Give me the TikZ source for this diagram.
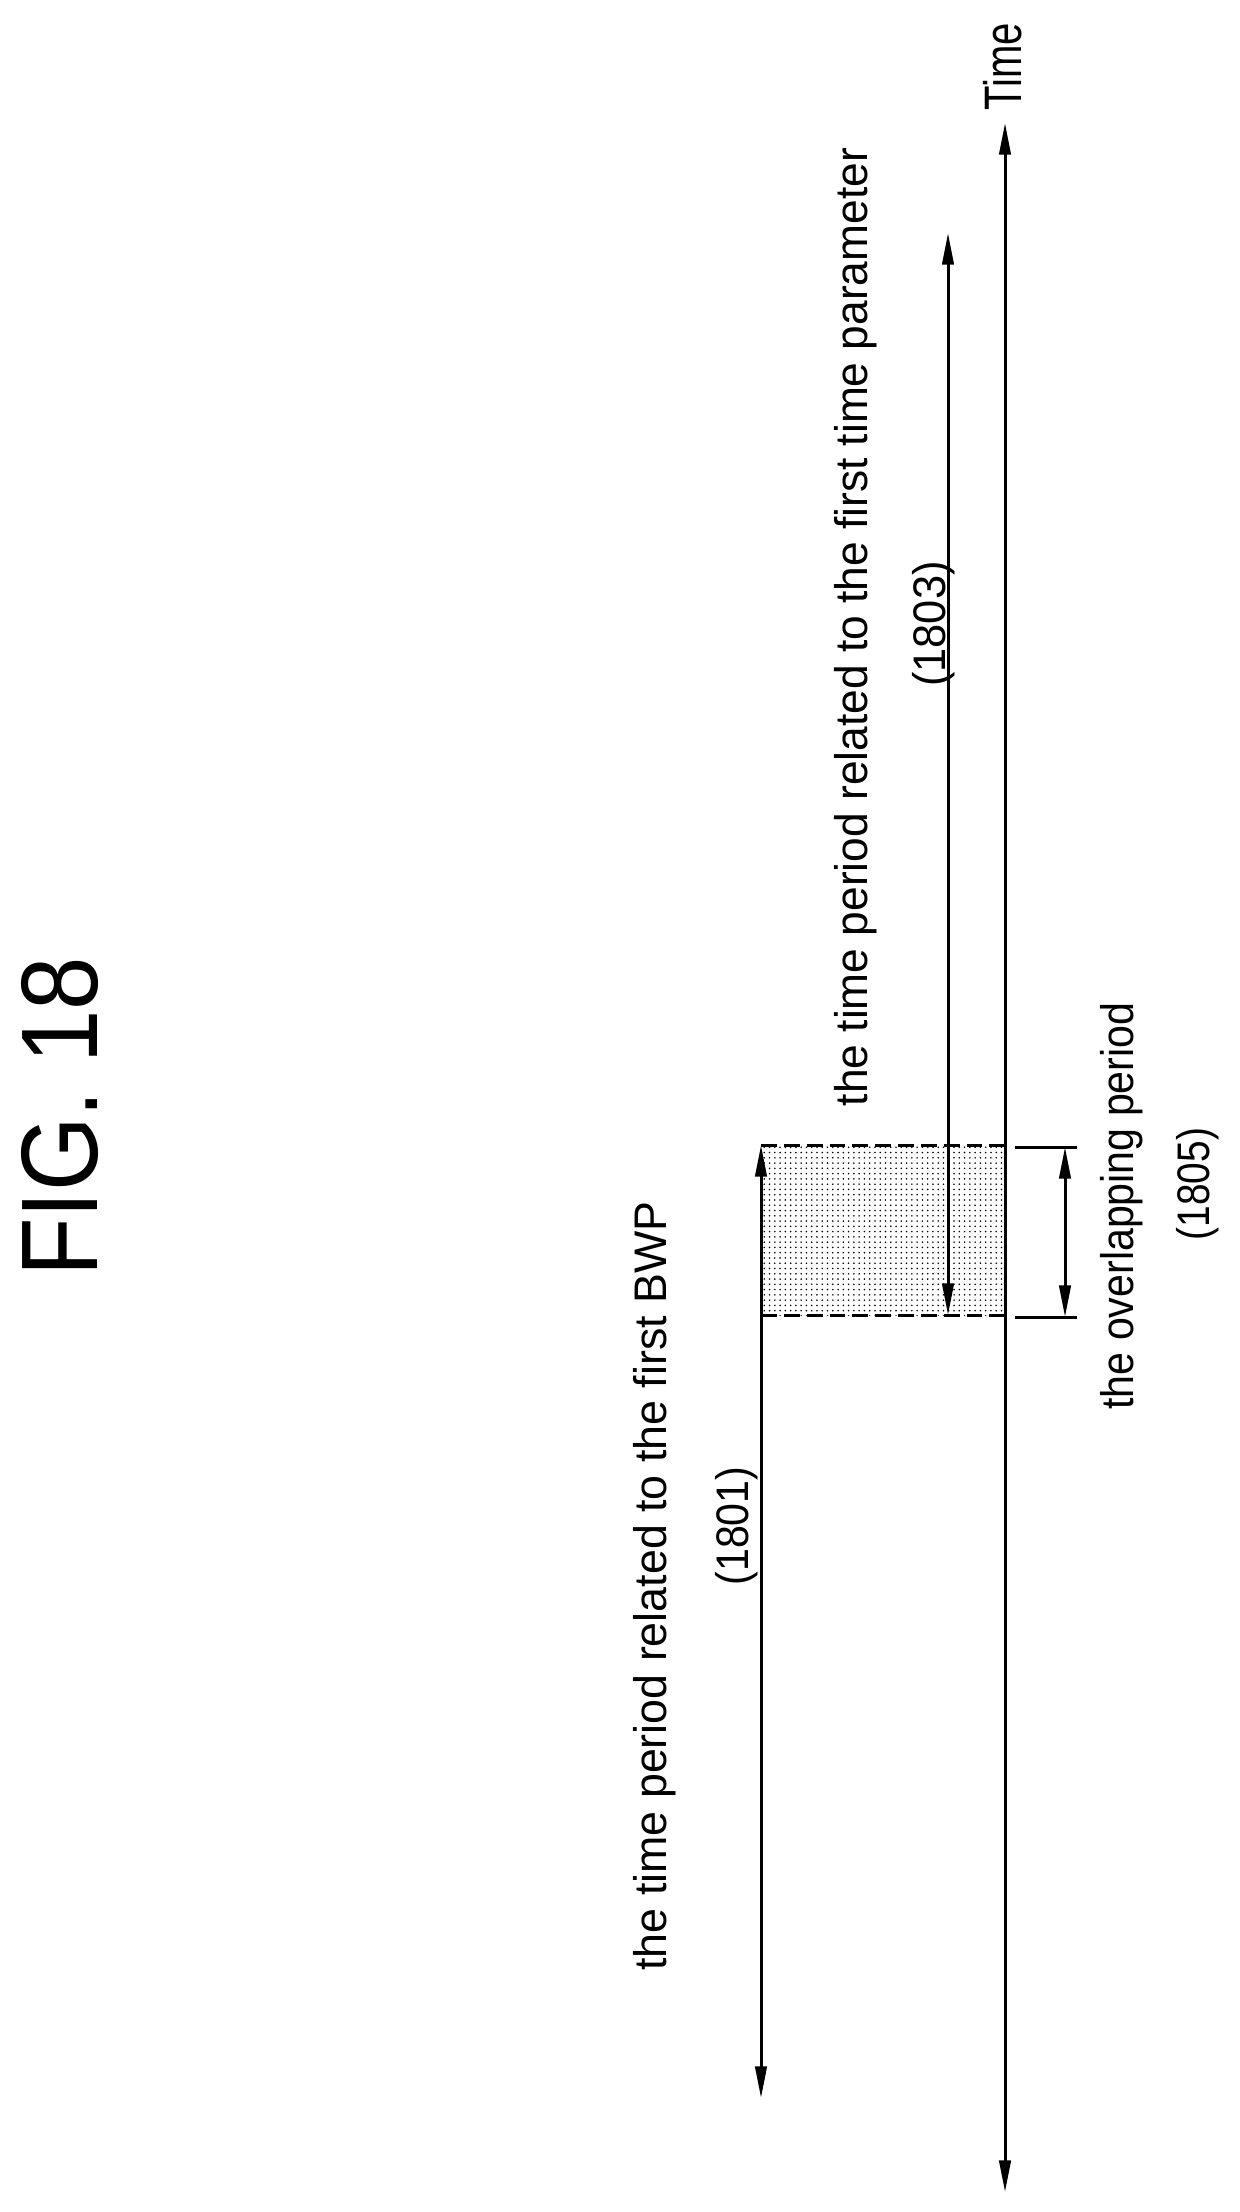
\documentclass[tikz,border=0pt]{standalone}
\usepackage{fontspec}
\setmainfont{Liberation Sans}
\usetikzlibrary{arrows.meta,patterns}
\newcommand{\cond}[2]{\scalebox{#1}[1]{#2}}
\tikzset{
  lbl/.style={rotate=90, inner sep=0pt, font=\fontsize{26}{32}\selectfont},
  span/.style={line width=1.7pt, {Triangle[length=18pt,width=6.5pt]}-{Triangle[length=18pt,width=6.5pt]}},
  edge/.style={line width=1.7pt, dashed, dash pattern=on 9pt off 4pt}
}
\begin{document}
\begin{tikzpicture}[x=0.02cm, y=-0.02cm]
  \useasboundingbox (0,0) rectangle (1240,2212);

  % coordinates
  \coordinate (tTop) at (1005,123);
  \coordinate (tBot) at (1005,2192);
  \coordinate (bwpTop) at (761,1145);
  \coordinate (bwpBot) at (761,2098);
  \coordinate (parTop) at (948,233);
  \coordinate (parBot) at (948,1315);
  \coordinate (boxR) at (1005,1315);
  \coordinate (ovTop) at (1065,1147);
  \coordinate (ovBot) at (1065,1317);

  % shaded overlap
  \fill[pattern=dots] (bwpTop) rectangle (boxR);
  \draw[edge] (bwpTop) -- (1005,1145);
  \draw[edge] (761,1315) -- (boxR);

  % periods
  \draw[span] (tBot) -- (tTop);
  \draw[span] (bwpBot) -- (bwpTop);
  \draw[span] (parTop) -- (parBot);
  \draw[span] (ovTop) -- (ovBot);
  \draw[line width=1.7pt] (1015,1147) -- (1077,1147);
  \draw[line width=1.7pt] (1015,1317) -- (1077,1317);

  % texts
  \node[rotate=90, inner sep=0pt, font=\fontsize{62}{70}\selectfont] (fig) at (60,1117) {\cond{0.88}{FIG. 18}};
  \node[lbl, font=\fontsize{30}{36}\selectfont] (time) at (1003,67) {\cond{0.76}{Time}};
  \node[lbl] (bwp) at (655,1586) {\cond{0.98}{the time period related to the first BWP}};
  \node[lbl] (bwpNo) at (737,1526) {\cond{0.9}{(1801)}};
  \node[lbl] (par) at (856,627) {\cond{0.97}{the time period related to the first time parameter}};
  \node[lbl] (parNo) at (934,624) {\cond{0.95}{(1803)}};
  \node[lbl] (ov) at (1122,1206) {\cond{0.9}{the overlapping period}};
  \node[lbl] (ovNo) at (1198,1184) {\cond{0.85}{(1805)}};
\end{tikzpicture}
\end{document}
